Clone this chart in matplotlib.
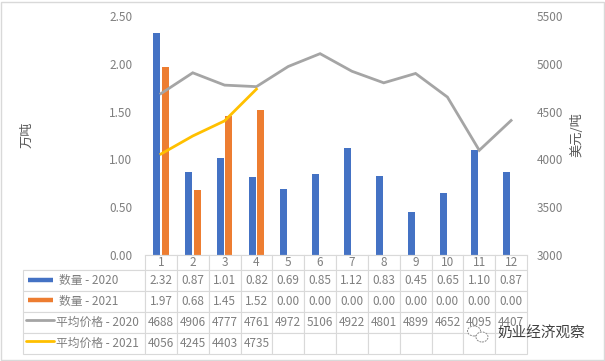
import matplotlib
matplotlib.use('Agg')
import matplotlib.pyplot as plt
from matplotlib.lines import Line2D
from matplotlib.patches import Rectangle, Ellipse

plt.rcParams['font.family'] = ['Noto Sans CJK SC', 'DejaVu Sans']

months = ['1', '2', '3', '4', '5', '6', '7', '8', '9', '10', '11', '12']
qty_2020 = [2.32, 0.87, 1.01, 0.82, 0.69, 0.85, 1.12, 0.83, 0.45, 0.65, 1.10, 0.87]
qty_2021 = [1.97, 0.68, 1.45, 1.52, 0.00, 0.00, 0.00, 0.00, 0.00, 0.00, 0.00, 0.00]
price_2020 = [4688, 4906, 4777, 4761, 4972, 5106, 4922, 4801, 4899, 4652, 4095, 4407]
price_2021 = [4056, 4245, 4403, 4735]
row_labels = ['数量 - 2020', '数量 - 2021', '平均价格 - 2020', '平均价格 - 2021']
left_ticks = [0, 0.5, 1, 1.5, 2, 2.5]
right_ticks = [3000, 3500, 4000, 4500, 5000, 5500]

W, H = 605, 361
BLUE, ORANGE, GRAY, YELLOW = '#4472c4', '#ed7d31', '#a5a5a5', '#ffc000'
TXT = '#7f7f7f'
GRID = '#d9d9d9'


def box(x0, y0, x1, y1):
    # pixel box (y from the top) -> figure fraction
    return [x0 / W, 1 - y1 / H, (x1 - x0) / W, (y1 - y0) / H]


fig = plt.figure(figsize=(W / 100, H / 100), dpi=100)
fig.add_artist(Rectangle((1 / W, 1 / H), (W - 2) / W, (H - 3) / H, transform=fig.transFigure,
                         fill=False, ec='#d9d9d9', lw=1))

ax = fig.add_axes(box(145, 16, 527, 255))
xs = list(range(12))
ax.bar([x - 0.135 for x in xs], qty_2020, width=0.22, color=BLUE)
ax.bar([x + 0.135 for x in xs], qty_2021, width=0.22, color=ORANGE)
ax.set_xlim(-0.5, 11.5)
ax.set_ylim(0, 2.5)
ax.set_yticks(left_ticks, [f'{v:.2f}' for v in left_ticks])
ax.set_xticks([])
ax.tick_params(axis='y', length=0, labelsize=8.5, labelcolor=TXT, pad=9)
for s in ['top', 'left', 'right']:
    ax.spines[s].set_visible(False)
ax.spines['bottom'].set_color(GRID)

ax2 = ax.twinx()
ax2.plot(xs, price_2020, color=GRAY, lw=2, solid_joinstyle='miter')
ax2.plot(xs[:len(price_2021)], price_2021, color=YELLOW, lw=2, solid_joinstyle='miter')
ax2.set_ylim(3000, 5500)
ax2.set_yticks(right_ticks, [str(v) for v in right_ticks])
ax2.tick_params(axis='y', length=0, labelsize=8.5, labelcolor=TXT, pad=7)
for s in ax2.spines.values():
    s.set_visible(False)

fig.text(27 / W, 1 - 135 / H, '万吨', rotation=90, ha='center', va='center', fontsize=9.5, color='#595959')
fig.text(577 / W, 1 - 135 / H, '美元/吨', rotation=90, ha='center', va='center', fontsize=9.5, color='#595959')

# data table under the plot, first column holds the row names
tab_ax = fig.add_axes(box(23, 255, 527, 354))
tab_ax.axis('off')
rows = [
    [''] + months,
    [row_labels[0]] + [f'{v:.2f}' for v in qty_2020],
    [row_labels[1]] + [f'{v:.2f}' for v in qty_2021],
    [row_labels[2]] + [str(v) for v in price_2020],
    [row_labels[3]] + [str(v) for v in price_2021] + [''] * (12 - len(price_2021)),
]
tab = tab_ax.table(cellText=rows, cellLoc='center', bbox=[0, 0, 1, 1])
tab.auto_set_font_size(False)
tab.set_fontsize(8.5)
for (r, c), cell in tab.get_celld().items():
    cell.set_edgecolor(GRID)
    cell.set_linewidth(0.8)
    cell.get_text().set_color(TXT)
    cell.set_width(122 if c == 0 else 382 / 12)
    cell.set_height(15 if r == 0 else 21)
    if c == 0:
        cell.set_text_props(ha='left')
        cell._loc = 'left'
        cell.PAD = (36 if r <= 2 else 33) / 122
        if r == 0:
            cell.visible_edges = 'B'

keys = [(27.5, 53, 280, BLUE, 3.2, 'butt'), (27.5, 53, 300, ORANGE, 3.2, 'butt'),
        (26, 54, 320, GRAY, 2, 'round'), (26, 54, 341, YELLOW, 2, 'round')]
for x0, x1, y, col, lw, cap in keys:
    fig.add_artist(Line2D([x0 / W, x1 / W], [1 - y / H, 1 - y / H], transform=fig.transFigure,
                          color=col, lw=lw, solid_capstyle=cap))

# watermark
fig.text(497 / W, 1 - 334 / H, '奶业经济观察', ha='left', va='center', fontsize=10.5, color='#404040')
for cx, cy, w, h in [(474, 331, 13, 10), (482, 337, 12, 10)]:
    fig.add_artist(Ellipse((cx / W, 1 - cy / H), w / W, h / H, transform=fig.transFigure,
                           fc='white', ec='#8c8c8c', lw=0.7, ls=(0, (2, 1))))

fig.savefig('out.png', dpi=100)
